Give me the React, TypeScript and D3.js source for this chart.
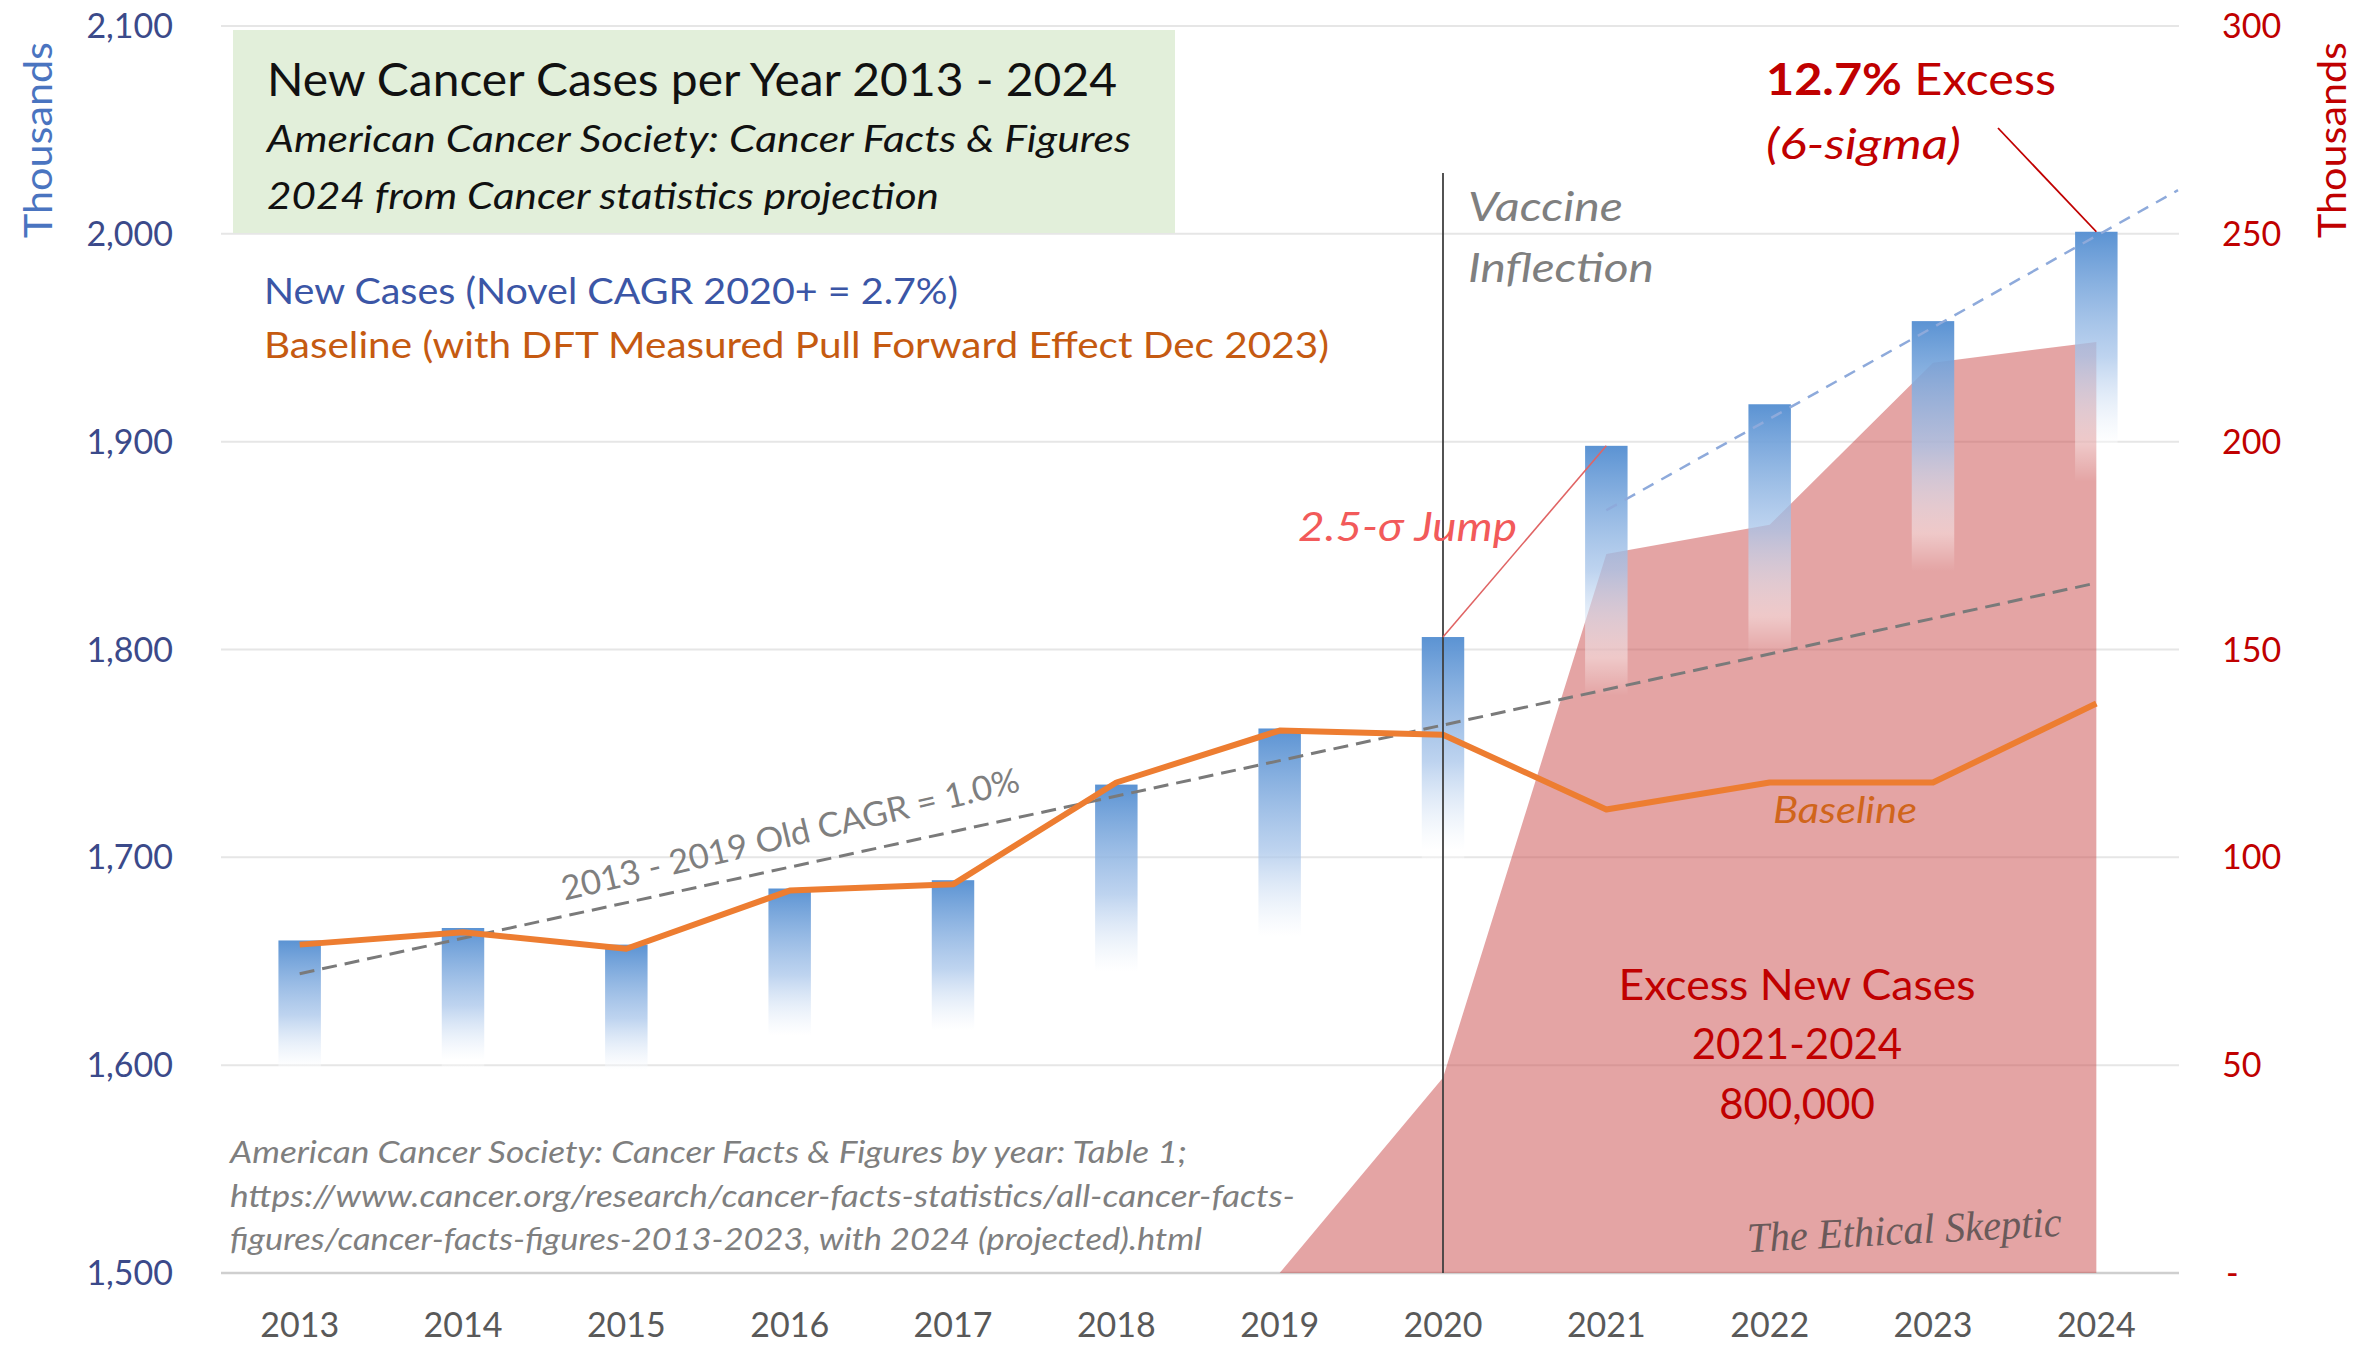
import { useEffect } from "react"
import * as d3 from "d3"

const years = [2013, 2014, 2015, 2016, 2017, 2018, 2019, 2020, 2021, 2022, 2023, 2024]
const newCases = [1660, 1666, 1658, 1685, 1689, 1735, 1762, 1806, 1898, 1918, 1958, 2001]
const baseline = [1658, 1664, 1656, 1684, 1687, 1736, 1761, 1759, 1723, 1736, 1736, 1774]
const excessYears = [2019, 2020, 2021, 2022, 2023, 2024]
const excess = [0, 47, 173, 180, 219, 224]
const oldTrendYears = [2013, 2024]
const oldTrend = [1644, 1832]
const novelTrendYears = [2021, 2024.5]
const novelTrend = [1867, 2021]
const leftTicks = [1500, 1600, 1700, 1800, 1900, 2000, 2100]
const rightTicks = [0, 50, 100, 150, 200, 250, 300]

const W = 2356
const H = 1348
const FONT = "Lato, 'Open Sans', sans-serif"

export default function App() {
  useEffect(() => {
    document.body.style.margin = "0"
  }, [])

  const x = d3.scaleBand<number>().domain(years).range([218, 2178]).paddingInner(0.74).paddingOuter(0.37)
  const xc = (yr: number) => (x(yr) as number) + x.bandwidth() / 2
  const xYear = d3.scaleLinear().domain([2013, 2024]).range([xc(2013), xc(2024)])
  const yL = d3.scaleLinear().domain([1500, 2100]).range([1273, 26])
  const yR = d3.scaleLinear().domain([0, 300]).range([1273, 26])

  const baseLine = d3
    .line<number>()
    .x((_, i) => xc(years[i]))
    .y((d) => yL(d))

  const excessArea = d3
    .area<number>()
    .x((_, i) => xc(excessYears[i]))
    .y0(yR(0))
    .y1((d) => yR(d))

  const trend = (ys: number[], vs: number[]) =>
    d3
      .line<number>()
      .x((d) => xYear(d))
      .y((_, i) => yL(vs[i]))(ys) as string

  const fmt = d3.format(",")
  const gridX0 = 221
  const gridX1 = 2179

  return (
    <svg width={W} height={H} style={{ position: "absolute", left: 0, top: 0, background: "#fff" }} fontFamily={FONT}>
      <defs>
        {years.map((yr, i) => {
          const top = yL(newCases[i])
          const h = yL(1500) - top
          const len = Math.min(0.45 * h, 250)
          return (
            <linearGradient key={yr} id={`bar${yr}`} gradientUnits="userSpaceOnUse" x1="0" x2="0" y1={top} y2={top + len}>
              <stop offset="0" stopColor="#5b93d3" stopOpacity="1" />
              <stop offset="0.5" stopColor="#a8c5ea" stopOpacity="0.75" />
              <stop offset="0.85" stopColor="#ffffff" stopOpacity="0.4" />
              <stop offset="1" stopColor="#ffffff" stopOpacity="0" />
            </linearGradient>
          )
        })}
      </defs>

      {/* gridlines */}
      {leftTicks.map((t) => (
        <line
          key={t}
          x1={gridX0}
          x2={gridX1}
          y1={yL(t)}
          y2={yL(t)}
          stroke={t === 1500 ? "#cfcfcf" : "#e6e6e6"}
          strokeWidth={t === 1500 ? 2.5 : 2}
        />
      ))}

      {/* title box */}
      <rect x={233} y={30} width={942} height={203} fill="#e2efda" />
      <text x={267} y={96} fontSize={46} fill="#111" textLength={850} lengthAdjust="spacingAndGlyphs">
        New Cancer Cases per Year 2013 - 2024
      </text>
      <text x={267} y={152} fontSize={36} fontStyle="italic" fill="#111" textLength={864} lengthAdjust="spacingAndGlyphs">
        American  Cancer Society:  Cancer Facts &amp; Figures
      </text>
      <text x={267} y={209} fontSize={36} fontStyle="italic" fill="#111" textLength={672} lengthAdjust="spacingAndGlyphs">
        2024 from Cancer statistics  projection
      </text>

      {/* legend text */}
      <text x={264} y={304} fontSize={36} fill="#3b56a6" textLength={694} lengthAdjust="spacingAndGlyphs">
        New  Cases (Novel CAGR 2020+ = 2.7%)
      </text>
      <text x={264} y={358} fontSize={36} fill="#c55a11" textLength={1065} lengthAdjust="spacingAndGlyphs">
        Baseline (with DFT  Measured Pull Forward Effect Dec 2023)
      </text>

      {/* excess area */}
      <path d={excessArea(excess) as string} fill="#c9494a" fillOpacity={0.5} />

      {/* bars */}
      {years.map((yr, i) => (
        <rect
          key={yr}
          x={x(yr)}
          y={yL(newCases[i])}
          width={x.bandwidth()}
          height={yL(1500) - yL(newCases[i])}
          fill={`url(#bar${yr})`}
        />
      ))}

      {/* trend lines */}
      <path d={trend(oldTrendYears, oldTrend)} fill="none" stroke="#7a7a7a" strokeWidth={3} strokeDasharray="15 8" />
      <path d={trend(novelTrendYears, novelTrend)} fill="none" stroke="#8eaadb" strokeWidth={2.5} strokeDasharray="12 9" />

      {/* baseline */}
      <path d={baseLine(baseline) as string} fill="none" stroke="#ed7d31" strokeWidth={6} strokeLinejoin="round" />

      {/* vaccine inflection line */}
      <line x1={xc(2020)} x2={xc(2020)} y1={173} y2={yL(1500)} stroke="#404040" strokeWidth={1.8} />

      {/* annotation connectors */}
      <line x1={xc(2020)} y1={yL(newCases[7])} x2={xc(2021)} y2={yL(newCases[8])} stroke="#e06464" strokeWidth={1.6} />
      <line x1={1998} y1={128} x2={xc(2024)} y2={yL(newCases[11])} stroke="#c00000" strokeWidth={1.8} />

      {/* left axis */}
      {leftTicks.map((t) => (
        <text key={t} x={173} y={yL(t) + 12} fontSize={34} fill="#3b4a8a" textAnchor="end">
          {fmt(t)}
        </text>
      ))}
      <text
        transform={`translate(52,140) rotate(-90)`}
        fontSize={38}
        fill="#4a74c0"
        textAnchor="middle"
        textLength={196}
        lengthAdjust="spacingAndGlyphs"
      >
        Thousands
      </text>

      {/* right axis */}
      {rightTicks.map((t) => (
        <text key={t} x={t === 0 ? 2226 : 2222} y={yR(t) + 12} fontSize={34} fill="#c00000" textAnchor="start">
          {t === 0 ? "-" : t}
        </text>
      ))}
      <text
        transform={`translate(2346,140) rotate(-90)`}
        fontSize={38}
        fill="#c00000"
        textAnchor="middle"
        textLength={196}
        lengthAdjust="spacingAndGlyphs"
      >
        Thousands
      </text>

      {/* x axis */}
      {years.map((yr) => (
        <text key={yr} x={xc(yr)} y={1337} fontSize={34} fill="#595959" textAnchor="middle">
          {yr}
        </text>
      ))}

      {/* annotations */}
      <text x={1468} y={221} fontSize={40} fontStyle="italic" fill="#7f7f7f" textLength={155} lengthAdjust="spacingAndGlyphs">
        Vaccine
      </text>
      <text x={1468} y={282} fontSize={40} fontStyle="italic" fill="#7f7f7f" textLength={186} lengthAdjust="spacingAndGlyphs">
        Inflection
      </text>
      <text x={1766} y={95} fontSize={44} fill="#c00000" textLength={290} lengthAdjust="spacingAndGlyphs">
        <tspan fontWeight="bold">12.7%</tspan>
        <tspan> Excess</tspan>
      </text>
      <text x={1766} y={159} fontSize={42} fontStyle="italic" fill="#c00000" textLength={195} lengthAdjust="spacingAndGlyphs">
        (6-sigma)
      </text>
      <text x={1298} y={541} fontSize={40} fontStyle="italic" fill="#f25a5a" textLength={219} lengthAdjust="spacingAndGlyphs">
        2.5-σ Jump
      </text>
      <text
        transform={`translate(793,846) rotate(-13.5)`}
        fontSize={34}
        fill="#7f7f7f"
        textAnchor="middle"
        textLength={470}
        lengthAdjust="spacingAndGlyphs"
      >
        2013 - 2019 Old CAGR = 1.0%
      </text>
      <text x={1773} y={823} fontSize={36} fontStyle="italic" fill="#d0651b" textLength={144} lengthAdjust="spacingAndGlyphs">
        Baseline
      </text>

      <text x={1797} y={1000} fontSize={42} fill="#c00000" textAnchor="middle" textLength={357} lengthAdjust="spacingAndGlyphs">
        Excess New Cases
      </text>
      <text x={1797} y={1059} fontSize={42} fill="#c00000" textAnchor="middle">
        2021-2024
      </text>
      <text x={1797} y={1119} fontSize={42} fill="#c00000" textAnchor="middle">
        800,000
      </text>

      {/* source */}
      <g fontSize={30} fontStyle="italic" fill="#7f7f7f">
        <text x={230} y={1163} textLength={957} lengthAdjust="spacingAndGlyphs">
          American Cancer Society: Cancer Facts &amp; Figures by year: Table  1;
        </text>
        <text x={230} y={1207} textLength={1065} lengthAdjust="spacingAndGlyphs">
          https://www.cancer.org/research/cancer-facts-statistics/all-cancer-facts-
        </text>
        <text x={230} y={1250} textLength={972} lengthAdjust="spacingAndGlyphs">
          figures/cancer-facts-figures-2013-2023, with 2024 (projected).html
        </text>
      </g>

      <text
        transform={`translate(1905,1244) rotate(-3)`}
        fontFamily="'Liberation Serif', 'DejaVu Serif', serif"
        fontStyle="italic"
        fontSize={42}
        fill="#6a5a5a"
        textAnchor="middle"
        textLength={315}
        lengthAdjust="spacingAndGlyphs"
      >
        The Ethical Skeptic
      </text>
    </svg>
  )
}
